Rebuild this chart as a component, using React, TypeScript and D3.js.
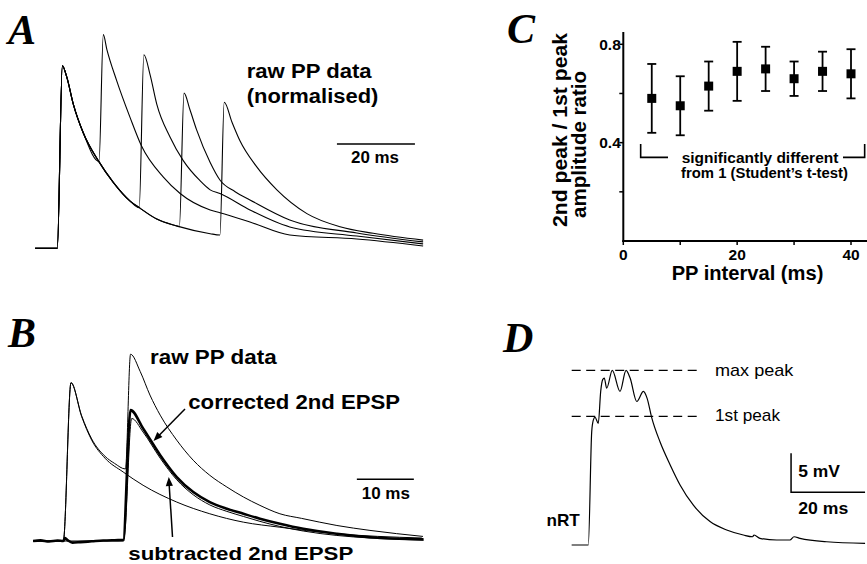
import React from 'react';
import * as d3 from 'd3';

// ---------------- Panel A : raw PP data (normalised), time in ms, amplitude normalised ----------------
const aFirstT = [-5.7, 0, 1.3, 2.4, 4.1, 6.7, 10.5, 14.4, 18.6, 21.2, 25.5, 31.0, 39.2, 41.7];
const aFirstV = [0, 0, 1.0, 0.94, 0.79, 0.63, 0.48, 0.36, 0.26, 0.22, 0.16, 0.12, 0.08, 0.07];
const aOnsets = [10.7, 21.0, 31.3, 41.7];
const aSecond10: [number, number][] = [[10.7, 0.475], [11.8, 1.17], [12.7, 1.09], [15.2, 0.92], [18.6, 0.72], [21.6, 0.56], [27.2, 0.39], [31.5, 0.30], [39.2, 0.21], [41.7, 0.195], [49.4, 0.144], [59.6, 0.073], [76.8, 0.051], [93.8, 0.013]];
const aSecond20: [number, number][] = [[21.0, 0.222], [22.2, 1.06], [23.8, 0.95], [25.5, 0.79], [28.9, 0.61], [32.3, 0.48], [36.6, 0.37], [39.2, 0.32], [41.7, 0.30], [49.4, 0.21], [59.6, 0.117], [76.8, 0.067], [93.8, 0.024]];
const aSecond30: [number, number][] = [[31.3, 0.118], [32.5, 0.85], [34.0, 0.76], [35.7, 0.65], [39.2, 0.47], [41.7, 0.374], [45.6, 0.31], [49.4, 0.265], [59.6, 0.155], [76.8, 0.084], [93.8, 0.035]];
const aSecond40: [number, number][] = [[41.7, 0.073], [42.8, 0.80], [44.8, 0.69], [46.8, 0.59], [51.1, 0.447], [56.3, 0.32], [64.0, 0.19], [72.5, 0.118], [81.0, 0.082], [93.8, 0.045]];
const aSeconds = [aSecond10, aSecond20, aSecond30, aSecond40];
const aScaleBarMs = 20;

// ---------------- Panel B ----------------
const bFirstT = [-5.3, 0, 1.35, 3.23, 4.98, 7.32, 10.5, 14.0, 19.9, 25.7, 31.6, 38.0, 47.3, 62.9];
const bFirstV = [0, 0, 1.0, 0.785, 0.637, 0.523, 0.436, 0.352, 0.246, 0.172, 0.119, 0.087, 0.048, 0.019];
const bRawT = [-5.3, 0, 1.35, 3.23, 4.98, 7.32, 9.0, 10.9, 11.8, 13.5, 15.2, 17.0, 19.9, 22.8, 25.7, 28.7, 31.6, 34.5, 38.0, 41.8, 48.0, 53.8, 63.1];
const bRawV = [0, 0, 1.0, 0.79, 0.645, 0.535, 0.49, 0.455, 1.18, 1.07, 0.922, 0.795, 0.637, 0.51, 0.415, 0.341, 0.278, 0.225, 0.172, 0.143, 0.098, 0.067, 0.029];
const bCorrT = [-5.3, -4, -2.5, -1, 0, 0.3, 0.8, 1.6, 3, 5, 7, 9, 10.5, 11.8, 14.0, 17.0, 19.9, 22.8, 25.7, 28.7, 31.6, 34.5, 38.0, 42.1, 48.0, 53.8, 63.2];
const bCorrV = [0, 0.004, -0.003, 0.003, 0, 0.018, 0.004, -0.01, -0.007, -0.002, 0.003, 0.005, 0.006, 0.827, 0.711, 0.542, 0.404, 0.309, 0.246, 0.204, 0.172, 0.141, 0.109, 0.077, 0.046, 0.024, 0.010];
const bSubT = [-5.3, 10.6, 12.0, 14.0, 17.0, 19.9, 22.8, 25.7, 28.7, 31.6, 34.5, 38.0, 42.1, 48.0, 53.8, 63.2];
const bSubV = [0, 0.0, 0.774, 0.688, 0.523, 0.387, 0.292, 0.228, 0.187, 0.155, 0.124, 0.092, 0.063, 0.035, 0.019, 0.006];
const bScaleBarMs = 10;

// ---------------- Panel C ----------------
const cIntervals = [5, 10, 15, 20, 25, 30, 35, 40];
const cRatio = [0.58, 0.55, 0.63, 0.69, 0.70, 0.66, 0.69, 0.68];
const cError = [0.14, 0.12, 0.10, 0.12, 0.09, 0.07, 0.08, 0.10];
const cXTicks = [0, 10, 20, 30, 40];
const cXLabels = [0, 20, 40];
const cYTicks = [0.2, 0.4, 0.6, 0.8];
const cYLabels = [0.4, 0.8];

// ---------------- Panel D (nRT) ----------------
const dT = [-4.5, 0, 0.92, 1.35, 1.81, 2.7, 3.35, 3.89, 4.32, 4.97, 6.49, 8.57, 10.2, 11.3, 13.1, 14.9, 15.9, 17.1, 19.4, 22.1, 24.8, 28.4, 32.9, 37.4, 41.9, 44.4, 44.8, 46.4, 50.9, 54.5, 55.6, 57.2, 64.4, 74.8];
const dV = [0, 0, 14.5, 16.0, 16.4, 15.6, 19.7, 21.2, 21.4, 20.1, 22.4, 19.7, 22.4, 21.4, 18.4, 19.7, 18.8, 16.4, 13.2, 10.3, 7.7, 5.1, 3.0, 1.92, 1.28, 1.06, 1.28, 0.86, 0.64, 0.64, 1.06, 0.86, 0.42, 0.22];
const dMaxPeak = 22.4;
const dFirstPeak = 16.5;
const dScaleMs = 20;
const dScaleMv = 5;

const SANS = "'Liberation Sans', Arial, Helvetica, sans-serif";
const SERIF = "'Liberation Serif', 'Times New Roman', serif";

const zip = (t: number[], v: number[]): [number, number][] => t.map((x, i) => [x, v[i]]);

export default function App() {
  // scales
  const xA = d3.scaleLinear().domain([0, 20]).range([57.3, 135.3]);
  const yA = d3.scaleLinear().domain([0, 1]).range([248.3, 65.7]);
  const xB = d3.scaleLinear().domain([0, 10]).range([63.3, 120.3]);
  const yB = d3.scaleLinear().domain([0, 1]).range([541, 382.7]);
  const xC = d3.scaleLinear().domain([0, 40]).range([623.3, 851]);
  const yC = d3.scaleLinear().domain([0, 0.8]).range([241, 44.3]);
  const xD = d3.scaleLinear().domain([0, 20]).range([588.3, 662.3]);
  const yD = d3.scaleLinear().domain([0, 5]).range([545, 506]);

  const lineA = d3.line<[number, number]>().x(d => xA(d[0])).y(d => yA(d[1])).curve(d3.curveMonotoneX);
  const lineB = d3.line<[number, number]>().x(d => xB(d[0])).y(d => yB(d[1])).curve(d3.curveMonotoneX);
  const lineD = d3.line<[number, number]>().x(d => xD(d[0])).y(d => yD(d[1])).curve(d3.curveMonotoneX);

  const aFirst = zip(aFirstT, aFirstV);
  const aTraces = aSeconds.map((sec, i) => [...aFirst.filter(p => p[0] < aOnsets[i] - 0.2), ...sec]);

  const bFirst = zip(bFirstT, bFirstV);
  const bRaw = zip(bRawT, bRawV);
  const bCorr = zip(bCorrT, bCorrV);
  const bSub = zip(bSubT, bSubV);
  const dTrace = zip(dT, dV);

  const aBarStart = 71.7;
  const bBarStart = 51.5;
  const dBarStart = 54.8;
  const dBarLevel = 6.76;

  const arrowHead = (x1: number, y1: number, x2: number, y2: number) => {
    const ang = Math.atan2(y2 - y1, x2 - x1);
    const L = 9, W = 3.6;
    const bx = x2 - L * Math.cos(ang), by = y2 - L * Math.sin(ang);
    const px = -Math.sin(ang) * W, py = Math.cos(ang) * W;
    return `M${x2},${y2}L${bx + px},${by + py}L${bx - px},${by - py}Z`;
  };

  return (
    <svg width={867} height={564} style={{ position: 'absolute', left: 0, top: 0, background: '#fff' }}
      xmlns="http://www.w3.org/2000/svg">
      <rect x={0} y={0} width={867} height={564} fill="#fff" />

      {/* ===== Panel letters ===== */}
      <g fontFamily={SERIF} fontWeight="bold" fontStyle="italic" fontSize={42} fill="#000">
        <text x={8} y={44}>A</text>
        <text x={8} y={347}>B</text>
        <text x={507} y={43}>C</text>
        <text x={503} y={352}>D</text>
      </g>

      {/* ===== Panel A ===== */}
      <g fill="none" stroke="#000" strokeWidth={1.1} strokeLinejoin="round">
        {aTraces.map((tr, i) => <path key={i} d={lineA(tr) || ''} />)}
      </g>
      <line x1={xA(aBarStart)} x2={xA(aBarStart + aScaleBarMs)} y1={144} y2={144} stroke="#000" strokeWidth={1.6} />
      <g fontFamily={SANS} fontWeight="bold" fill="#000">
        <text x={246.7} y={78} fontSize={19.5} textLength={125} lengthAdjust="spacingAndGlyphs">raw PP data</text>
        <text x={246.7} y={103} fontSize={19.5} textLength={131.7} lengthAdjust="spacingAndGlyphs">(normalised)</text>
        <text x={351} y={163} fontSize={16} textLength={48} lengthAdjust="spacingAndGlyphs">{`${aScaleBarMs} ms`}</text>
      </g>

      {/* ===== Panel B ===== */}
      <g fill="none" stroke="#000" strokeLinejoin="round">
        <path d={lineB(bFirst) || ''} strokeWidth={1} />
        <path d={lineB(bRaw) || ''} strokeWidth={1} />
        <path d={lineB(bSub) || ''} strokeWidth={1} />
        <path d={lineB(bCorr) || ''} strokeWidth={2.6} />
      </g>
      <line x1={xB(bBarStart)} x2={xB(bBarStart + bScaleBarMs)} y1={479.3} y2={479.3} stroke="#000" strokeWidth={1.6} />
      <g stroke="#000" strokeWidth={1.5} fill="#000">
        <line x1={185} y1={409} x2={157} y2={437.5} />
        <path d={arrowHead(185, 409, 153.5, 441)} stroke="none" />
        <line x1={172.5} y1={537} x2={169.2} y2={485} />
        <path d={arrowHead(172.5, 537, 168.8, 477)} stroke="none" />
      </g>
      <g fontFamily={SANS} fontWeight="bold" fill="#000">
        <text x={150} y={363.5} fontSize={19.5} textLength={126.7} lengthAdjust="spacingAndGlyphs">raw PP data</text>
        <text x={188.3} y={409} fontSize={19.5} textLength={211.7} lengthAdjust="spacingAndGlyphs">corrected 2nd EPSP</text>
        <text x={128.3} y={559.5} fontSize={19} textLength={225} lengthAdjust="spacingAndGlyphs">subtracted 2nd EPSP</text>
        <text x={361.7} y={499} fontSize={16} textLength={48.3} lengthAdjust="spacingAndGlyphs">{`${bScaleBarMs} ms`}</text>
      </g>

      {/* ===== Panel C ===== */}
      <g stroke="#000" strokeWidth={2} fill="none">
        <line x1={xC(0)} x2={xC(0)} y1={yC(0) + 1} y2={yC(0.85)} />
        <line x1={xC(0) - 1} x2={867} y1={yC(0)} y2={yC(0)} />
        {cYTicks.map(v => <line key={v} x1={xC(0) - 4} x2={xC(0)} y1={yC(v)} y2={yC(v)} strokeWidth={1.5} />)}
        {cXTicks.map(v => <line key={v} x1={xC(v)} x2={xC(v)} y1={yC(0)} y2={yC(0) + 4} strokeWidth={1.5} />)}
      </g>
      <g fontFamily={SANS} fontWeight="bold" fill="#000" fontSize={15.5}>
        {cYLabels.map(v => (
          <text key={v} x={xC(0) - 2.5} y={yC(v) + 5.5} textAnchor="end">{v.toFixed(1)}</text>
        ))}
        {cXLabels.map(v => (
          <text key={v} x={xC(v)} y={259.5} textAnchor="middle">{v}</text>
        ))}
      </g>
      <text x={747.5} y={279.5} textAnchor="middle" fontFamily={SANS} fontWeight="bold" fontSize={19.5}
        textLength={151.7} lengthAdjust="spacingAndGlyphs">PP interval (ms)</text>
      <g fontFamily={SANS} fontWeight="bold" fontSize={20.5} fill="#000">
        <text transform="translate(566.5,227) rotate(-90)" textAnchor="start" textLength={194} lengthAdjust="spacingAndGlyphs">2nd peak / 1st peak</text>
        <text transform="translate(586,218) rotate(-90)" textAnchor="start">amplitude ratio</text>
      </g>
      <g stroke="#000" strokeWidth={1.8} fill="#000">
        {cIntervals.map((x, i) => {
          const cx = xC(x);
          const top = yC(cRatio[i] + cError[i]);
          const bot = yC(cRatio[i] - cError[i]);
          return (
            <g key={x}>
              <line x1={cx} x2={cx} y1={top} y2={bot} />
              <line x1={cx - 4.5} x2={cx + 4.5} y1={top} y2={top} />
              <line x1={cx - 4.5} x2={cx + 4.5} y1={bot} y2={bot} />
              <rect x={cx - 4.5} y={yC(cRatio[i]) - 4.5} width={9} height={9} stroke="none" />
            </g>
          );
        })}
      </g>
      {/* significance bracket */}
      <g stroke="#000" strokeWidth={1.6} fill="none">
        <path d={`M${xC(3.05)},${yC(0.395)}V${yC(0.34)}H668`} />
        <path d={`M843,${yC(0.34)}H${xC(42.4)}V${yC(0.395)}`} />
      </g>
      <g fontFamily={SANS} fontWeight="bold" fontSize={14.5} fill="#000">
        <text x={681.7} y={163} textLength={156.7} lengthAdjust="spacingAndGlyphs">significantly different</text>
        <text x={681} y={178} textLength={167} lengthAdjust="spacingAndGlyphs">from 1 (Student’s t-test)</text>
      </g>

      {/* ===== Panel D ===== */}
      <g stroke="#000" strokeWidth={1.2} strokeDasharray="9,5.5">
        <line x1={571.7} x2={702} y1={yD(dMaxPeak)} y2={yD(dMaxPeak)} />
        <line x1={571.7} x2={702} y1={yD(dFirstPeak)} y2={yD(dFirstPeak)} />
      </g>
      <path d={lineD(dTrace) || ''} fill="none" stroke="#000" strokeWidth={1.2} strokeLinejoin="round" />
      <path d={`M${xD(dBarStart)},${yD(dBarLevel + dScaleMv)}V${yD(dBarLevel)}H${xD(dBarStart + dScaleMs)}`}
        fill="none" stroke="#000" strokeWidth={1.5} />
      <g fontFamily={SANS} fill="#000">
        <text x={715} y={376} fontSize={17} textLength={78.3} lengthAdjust="spacingAndGlyphs">max peak</text>
        <text x={715} y={421} fontSize={17} textLength={65} lengthAdjust="spacingAndGlyphs">1st peak</text>
        <text x={798.3} y={477} fontSize={16} fontWeight="bold" textLength={41.7} lengthAdjust="spacingAndGlyphs">{`${dScaleMv} mV`}</text>
        <text x={798.3} y={513.5} fontSize={16} fontWeight="bold" textLength={50} lengthAdjust="spacingAndGlyphs">{`${dScaleMs} ms`}</text>
        <text x={546.5} y={525.5} fontSize={17} fontWeight="bold" textLength={33.3} lengthAdjust="spacingAndGlyphs">nRT</text>
      </g>
    </svg>
  );
}
